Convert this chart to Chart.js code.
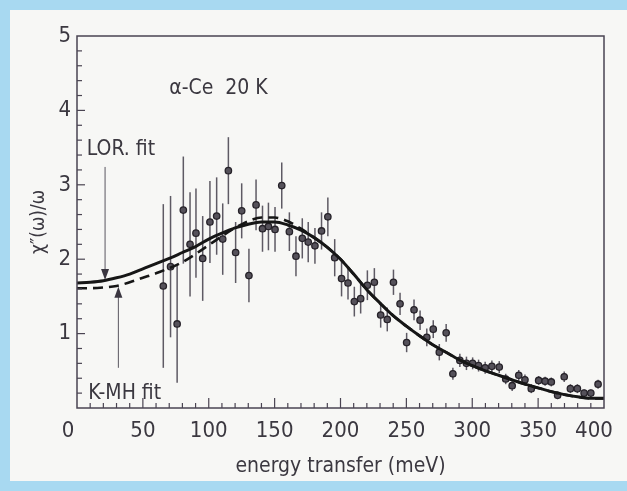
<!DOCTYPE html>
<html>
<head>
<meta charset="utf-8">
<script src="https://cdn.jsdelivr.net/npm/chart.js@4.4.0/dist/chart.umd.min.js"></script>
<style>
  html, body { margin: 0; padding: 0; }
  body { width: 627px; height: 491px; background: #a8d9f1; position: relative; overflow: hidden; }
  #panel { position: absolute; left: 10px; top: 10px; width: 617px; height: 471px; background: #f7f7f5; }
  #wrap { position: absolute; left: 0; top: 0; width: 627px; height: 491px; }
</style>
</head>
<body>
<div id="panel"></div>
<div id="wrap"><canvas id="chart" width="627" height="491"></canvas></div>
<script>
// measured points (energy in meV, chi''/omega, error)
const energy = [65.5, 71, 76, 80.7, 85.8, 90.3, 95.4, 100.9, 106, 110.6, 114.9, 120.4, 125, 130.5, 135.9,
  140.8, 145.3, 150.3, 155.4, 161.2, 166.2, 171, 175.5, 180.6, 185.6, 190.4, 195.6, 200.8, 205.7, 210.5,
  215.3, 220.4, 225.7, 230.5, 235.5, 240.2, 245.2, 250.2, 255.8, 260.4, 265.5, 270.4, 275, 280.2, 285.3,
  290.6, 295.6, 300.3, 304.8, 309.8, 314.9, 320.5, 325.4, 330.3, 335.3, 340, 344.8, 350.4, 355.3, 360,
  364.8, 369.8, 374.5, 379.8, 384.9, 390, 395.5];
const chi = [1.64, 1.90, 1.13, 2.66, 2.20, 2.35, 2.01, 2.50, 2.58, 2.27, 3.19, 2.09, 2.65, 1.78, 2.73,
  2.41, 2.44, 2.40, 2.99, 2.37, 2.04, 2.28, 2.23, 2.18, 2.38, 2.57, 2.02, 1.74, 1.68, 1.43,
  1.47, 1.65, 1.69, 1.25, 1.19, 1.69, 1.40, 0.88, 1.32, 1.18, 0.95, 1.06, 0.75, 1.01, 0.46,
  0.64, 0.60, 0.60, 0.57, 0.54, 0.56, 0.55, 0.39, 0.30, 0.44, 0.38, 0.26, 0.37, 0.36, 0.35,
  0.17, 0.42, 0.26, 0.26, 0.20, 0.20, 0.32];
const chiErr = [1.10, 0.95, 0.79, 0.72, 0.70, 0.60, 0.57, 0.55, 0.52, 0.48, 0.45, 0.41, 0.37, 0.36, 0.34,
  0.31, 0.32, 0.30, 0.31, 0.26, 0.27, 0.27, 0.27, 0.24, 0.25, 0.26, 0.25, 0.24, 0.22, 0.20,
  0.20, 0.20, 0.19, 0.17, 0.16, 0.17, 0.15, 0.13, 0.14, 0.13, 0.12, 0.12, 0.11, 0.12, 0.08,
  0.09, 0.09, 0.08, 0.08, 0.08, 0.08, 0.08, 0.07, 0.07, 0.07, 0.07, 0.06, 0.06, 0.06, 0.06,
  0.05, 0.07, 0.06, 0.06, 0.05, 0.05, 0.06];

// fit curves
const fitE = [0, 10, 20, 30, 40, 50, 60, 70, 80, 90, 100, 110, 120, 130, 140, 150, 160, 170, 180, 190, 200,
  210, 220, 230, 240, 250, 260, 270, 280, 290, 300, 310, 320, 330, 340, 350, 360, 370, 380, 390, 400];
const lorFit = [1.68, 1.69, 1.71, 1.75, 1.80, 1.87, 1.94, 2.01, 2.09, 2.17, 2.27, 2.35, 2.42, 2.47, 2.50, 2.50,
  2.46, 2.39, 2.29, 2.16, 2.00, 1.80, 1.59, 1.41, 1.24, 1.10, 0.97, 0.85, 0.75, 0.65, 0.57, 0.50, 0.44,
  0.38, 0.32, 0.27, 0.22, 0.18, 0.15, 0.13, 0.13];
const kmhFit = [1.61, 1.61, 1.62, 1.64, 1.69, 1.75, 1.81, 1.88, 1.96, 2.07, 2.19, 2.31, 2.42, 2.51, 2.56, 2.56,
  2.51, 2.41, 2.29, 2.16, 2.00, 1.80, 1.59, 1.41, 1.24, 1.10, 0.97, 0.85, 0.75, 0.65, 0.57, 0.50, 0.44,
  0.38, 0.32, 0.27, 0.22, 0.18, 0.15, 0.13, 0.13];

const xTicks = [0, 50, 100, 150, 200, 250, 300, 350, 400];
const yTicks = [1, 2, 3, 4, 5];

const FONT = "'DejaVu Sans Condensed', 'DejaVu Sans', sans-serif";
const INK = '#3b3840';

// error bars, frame, minor ticks, arrows, labels
const extras = {
  id: 'extras',
  beforeDatasetsDraw(chart) {
    const { ctx, scales: { x, y } } = chart;
    ctx.save();
    ctx.strokeStyle = '#5e5a64';
    ctx.lineWidth = 1.5;
    energy.forEach((e, i) => {
      const px = x.getPixelForValue(e);
      ctx.beginPath();
      ctx.moveTo(px, y.getPixelForValue(chi[i] + chiErr[i]));
      ctx.lineTo(px, y.getPixelForValue(chi[i] - chiErr[i]));
      ctx.stroke();
    });
    ctx.restore();
  },
  afterDraw(chart) {
    const { ctx, chartArea: a, scales: { x, y } } = chart;
    ctx.save();
    // frame
    ctx.strokeStyle = '#4a4452';
    ctx.lineWidth = 1.5;
    ctx.strokeRect(a.left, a.top, a.right - a.left, a.bottom - a.top);
    // ticks, pointing inward
    ctx.lineWidth = 1.2;
    for (let v = 10; v < 400; v += 10) {
      const px = x.getPixelForValue(v);
      const len = v % 50 === 0 ? 10 : 5;
      ctx.beginPath();
      ctx.moveTo(px, a.bottom);
      ctx.lineTo(px, a.bottom - len);
      ctx.stroke();
    }
    for (let k = 1; k < 25; k++) {
      const py = y.getPixelForValue(k * 0.2);
      const len = k % 5 === 0 ? 8 : 5;
      ctx.beginPath();
      ctx.moveTo(a.left, py);
      ctx.lineTo(a.left + len, py);
      ctx.stroke();
    }
    // x tick labels (the end ones sit a little inside, as in the original)
    ctx.fillStyle = INK;
    ctx.font = '22px ' + FONT;
    ctx.textAlign = 'center';
    ctx.textBaseline = 'middle';
    xTicks.forEach(v => {
      let shift = 0;
      if (v === 0) shift = -9;
      if (v === 400) shift = -10;
      ctx.fillText(String(v), x.getPixelForValue(v) + shift, a.bottom + 23);
    });
    // arrows
    ctx.strokeStyle = '#5a5660';
    ctx.fillStyle = '#3a3640';
    ctx.lineWidth = 1;
    const arrow = (e, y0, y1) => {
      const px = x.getPixelForValue(e);
      const p0 = y.getPixelForValue(y0);
      const p1 = y.getPixelForValue(y1);
      const dir = p1 > p0 ? 1 : -1;
      ctx.beginPath();
      ctx.moveTo(px, p0);
      ctx.lineTo(px, p1 - dir * 8);
      ctx.stroke();
      ctx.beginPath();
      ctx.moveTo(px, p1);
      ctx.lineTo(px - 4, p1 - dir * 11);
      ctx.lineTo(px + 4, p1 - dir * 11);
      ctx.closePath();
      ctx.fill();
    };
    arrow(21.3, 3.24, 1.72);
    arrow(31.4, 0.54, 1.63);
    // annotations
    ctx.fillStyle = INK;
    ctx.textBaseline = 'middle';
    ctx.textAlign = 'left';
    ctx.font = '21px ' + FONT;
    ctx.fillText('\u03b1-Ce  20 K', x.getPixelForValue(70), y.getPixelForValue(4.3));
    ctx.fillText('LOR. fit', x.getPixelForValue(7.4), y.getPixelForValue(3.47));
    ctx.fillText('K-MH fit', x.getPixelForValue(8.6), y.getPixelForValue(0.2));
    ctx.restore();
  }
};

new Chart(document.getElementById('chart'), {
  type: 'scatter',
  data: {
    datasets: [
      {
        type: 'line',
        label: 'LOR. fit',
        data: fitE.map((e, i) => ({ x: e, y: lorFit[i] })),
        borderColor: '#161616',
        borderWidth: 3,
        pointRadius: 0,
        cubicInterpolationMode: 'monotone',
        order: 1
      },
      {
        type: 'line',
        label: 'K-MH fit',
        data: fitE.map((e, i) => ({ x: e, y: kmhFit[i] })),
        borderColor: '#161616',
        borderWidth: 2.6,
        borderDash: [10, 6],
        pointRadius: 0,
        cubicInterpolationMode: 'monotone',
        order: 2
      },
      {
        label: 'data',
        data: energy.map((e, i) => ({ x: e, y: chi[i] })),
        pointRadius: 3.2,
        pointBackgroundColor: '#55515a',
        pointBorderColor: '#262229',
        pointBorderWidth: 1.3,
        order: 3
      }
    ]
  },
  options: {
    responsive: false,
    animation: false,
    layout: { padding: { top: 36, right: 23, left: 0, bottom: 0 } },
    plugins: { legend: { display: false }, tooltip: { enabled: false } },
    scales: {
      x: {
        type: 'linear',
        min: 0,
        max: 400,
        afterBuildTicks: s => { s.ticks = xTicks.map(v => ({ value: v })); },
        afterFit: s => { s.height = 83; },
        grid: { display: false, drawTicks: false },
        border: { display: false },
        ticks: { display: false },
        title: { display: true, text: 'energy transfer (meV)', color: INK,
                 font: { family: FONT, size: 21 }, padding: { top: 0, bottom: 12 } }
      },
      y: {
        type: 'linear',
        min: 0,
        max: 5,
        afterBuildTicks: s => { s.ticks = yTicks.map(v => ({ value: v })); },
        afterFit: s => { s.width = 77; },
        grid: { display: false, drawTicks: false },
        border: { display: false },
        ticks: { color: INK, font: { family: FONT, size: 22 }, padding: 6 },
        title: { display: true, text: '\u03c7\u2033(\u03c9)/\u03c9', color: INK,
                 font: { family: FONT, size: 19 }, padding: { top: 28, bottom: 0 } }
      }
    }
  },
  plugins: [extras]
});
</script>
</body>
</html>
